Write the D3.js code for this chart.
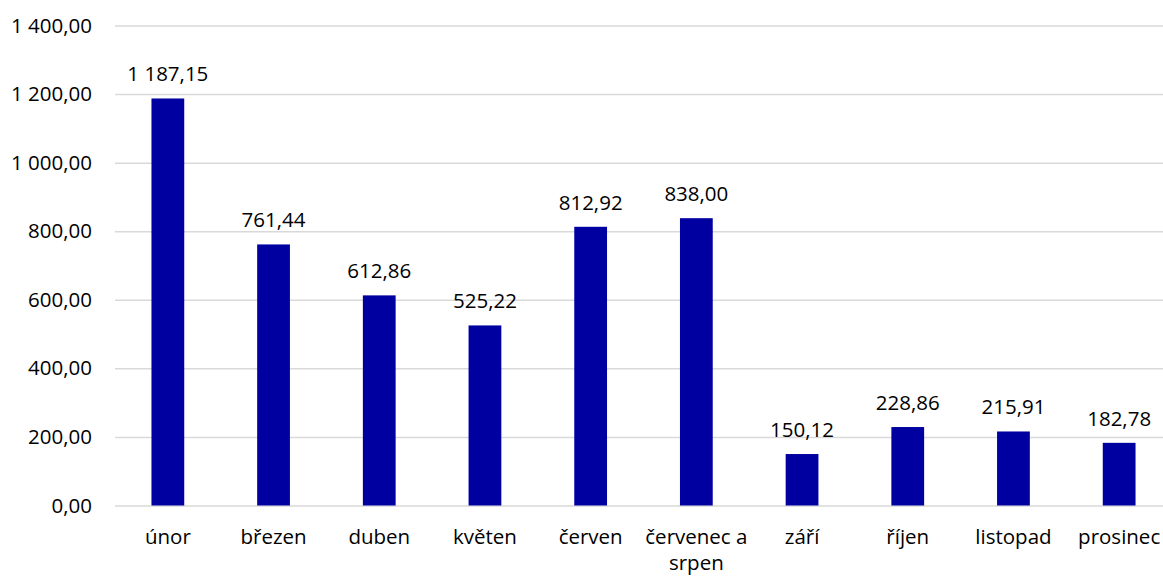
<!DOCTYPE html>
<html>
<head>
<meta charset="utf-8">
<script src="https://cdn.jsdelivr.net/npm/d3@7"></script>
<style>
  body { margin: 0; background: #fff; }
  svg text { font-family: "Open Sans", "Noto Sans", sans-serif; fill: #000; }
</style>
</head>
<body>
<div id="chart"></div>
<script>
// Values.
var categories = ['únor', 'březen', 'duben', 'květen', 'červen',
  'červenec a srpen', 'září', 'říjen', 'listopad', 'prosinec'];
var values = [1187.15, 761.44, 612.86, 525.22, 812.92, 838.00,
  150.12, 228.86, 215.91, 182.78];
var yTicks = [0, 200, 400, 600, 800, 1000, 1200, 1400];

var size = { width: 1163, height: 577 };
var plot = { left: 115, right: 1172, top: 25.5, bottom: 505.5 };
var fontSize = '20.5px';

var cz = d3.formatLocale({
  decimal: ',',
  thousands: '\u00a0',
  grouping: [3],
  currency: ['', '']
});
var fmt = cz.format(',.2f');

var svg = d3.select('#chart').append('svg')
  .attr('width', size.width)
  .attr('height', size.height);

var x = d3.scaleBand()
  .domain(categories)
  .range([plot.left, plot.right])
  .paddingInner(0.69)
  .paddingOuter(0.345);

var y = d3.scaleLinear()
  .domain([0, 1400])
  .range([plot.bottom, plot.top]);

// Gridlines and y labels.
var yAxis = d3.axisLeft(y)
  .tickValues(yTicks)
  .tickSize(-(plot.right - plot.left))
  .tickPadding(23)
  .tickFormat(fmt);

var gy = svg.append('g')
  .attr('transform', 'translate(' + plot.left + ',0)')
  .call(yAxis);
gy.select('.domain').remove();
gy.selectAll('.tick line')
  .attr('stroke', '#d9d9d9')
  .attr('stroke-width', 1.5);
gy.selectAll('.tick text')
  .style('font-size', fontSize);

// Bars.
svg.selectAll('rect.bar')
  .data(values)
  .enter()
  .append('rect')
  .attr('class', 'bar')
  .attr('x', function(d, i) { return x(categories[i]); })
  .attr('y', function(d) { return y(d); })
  .attr('width', x.bandwidth())
  .attr('height', function(d) { return y(0) - y(d); })
  .attr('fill', '#0000a0');

// Value labels.
svg.selectAll('text.val')
  .data(values)
  .enter()
  .append('text')
  .attr('class', 'val')
  .attr('x', function(d, i) { return x(categories[i]) + x.bandwidth() / 2; })
  .attr('y', function(d) { return y(d) - 17; })
  .attr('text-anchor', 'middle')
  .style('font-size', fontSize)
  .text(function(d) { return fmt(d); });

// Category labels, wrapped like the original.
var xAxis = d3.axisBottom(x).tickSize(0).tickPadding(0);
var gx = svg.append('g')
  .attr('transform', 'translate(0,' + plot.bottom + ')')
  .call(xAxis);
gx.select('.domain').remove();
gx.selectAll('.tick text').each(function(d) {
  var t = d3.select(this).text('').attr('y', 0).attr('dy', null)
    .style('font-size', fontSize);
  var lines = d === 'červenec a srpen' ? ['červenec a', 'srpen'] : [d];
  lines.forEach(function(s, k) {
    t.append('tspan').attr('x', 0).attr('y', 38 + k * 26).text(s);
  });
});
</script>
</body>
</html>
